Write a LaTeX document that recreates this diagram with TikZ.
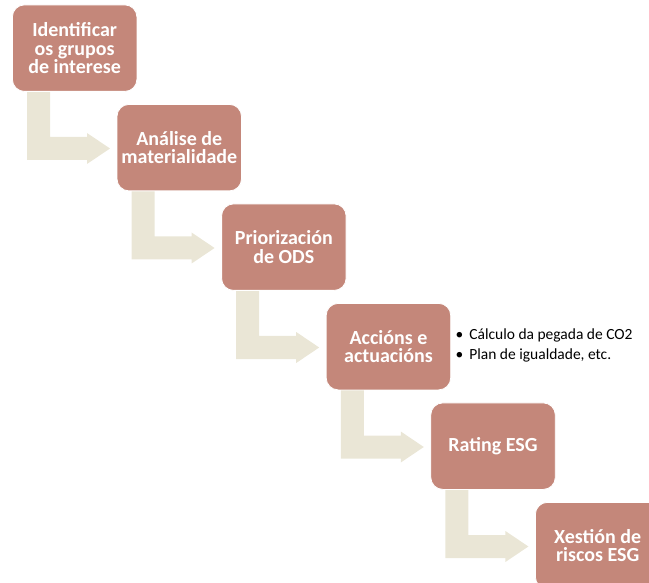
\documentclass[tikz,border=0pt]{standalone}
\usepackage{fontspec}
\setmainfont{Carlito}
\usetikzlibrary{calc,backgrounds}
\definecolor{boxfill}{RGB}{196,135,122}
\definecolor{arrowfill}{RGB}{234,230,214}
\tikzset{
  stepbox/.style={rectangle, rounded corners=12pt, fill=boxfill, draw=white, line width=0.8pt,
    minimum width=124.5pt, minimum height=86.5pt, inner sep=2pt, anchor=north west,
    text=white, align=center, font=\fontsize{20}{18.5}\selectfont\bfseries},
  bentarrow/.style={fill=arrowfill, draw=none},
  notes/.style={anchor=west, align=left, font=\fontsize{15.5}{20}\selectfont, text=black}
}
\newcommand{\bentarrow}[1]{%
  \fill[bentarrow] ($(#1.north west)+(15,60)$) -- ($(#1.north west)+(38,60)$)
    -- ($(#1.north west)+(38,132.5)$) -- ($(#1.north west)+(75,132.5)$)
    -- ($(#1.north west)+(75,128.5)$) -- ($(#1.north west)+(98,144)$)
    -- ($(#1.north west)+(75,159.5)$) -- ($(#1.north west)+(75,155.5)$)
    -- ($(#1.north west)+(15,155.5)$) -- cycle;}
\begin{document}
\begin{tikzpicture}[x=1pt,y=-1pt]
\useasboundingbox (0,0) rectangle (649,583);
\clip (0,0) rectangle (649,583);
\node[stepbox] (b1) at (12,4.5) {Identificar\\os grupos\\de interese};
\node[stepbox] (b2) at (116.6,104) {Análise de\\materialidade};
\node[stepbox] (b3) at (221.2,203.5) {Priorización\\de ODS};
\node[stepbox] (b4) at (325.8,303) {Accións e\\actuacións};
\node[stepbox] (b5) at (430.4,402.5) {Rating ESG};
\node[stepbox] (b6) at (535,502) {Xestión de\\riscos ESG};
\node[notes] (n4) at ($(b4.east)+(1,-1)$) {•\hspace{6pt}Cálculo da pegada de CO2\\•\hspace{6pt}Plan de igualdade, etc.};
\begin{pgfonlayer}{background}
\bentarrow{b1}
\bentarrow{b2}
\bentarrow{b3}
\bentarrow{b4}
\bentarrow{b5}
\end{pgfonlayer}
\end{tikzpicture}
\end{document}
